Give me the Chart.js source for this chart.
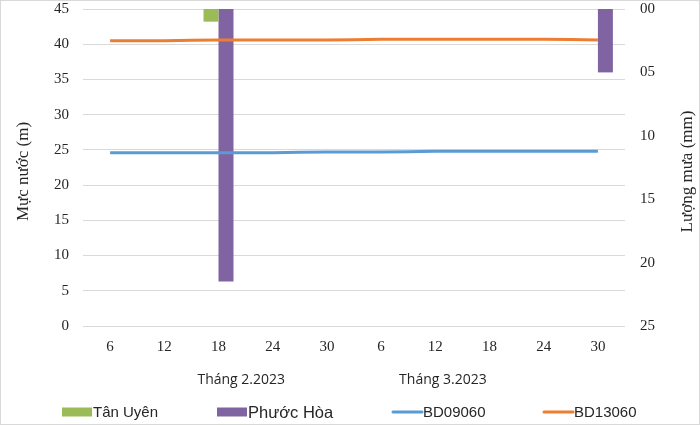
<!DOCTYPE html>
<html>
<head>
<meta charset="utf-8">
<script src="https://cdn.jsdelivr.net/npm/chart.js@4.4.1/dist/chart.umd.min.js"></script>
<style>
  body { margin: 0; background: #fff; }
  #chart { display: block; }
</style>
</head>
<body>
<canvas id="chart" width="700" height="425"></canvas>
<script>
// day labels along the x axis (every 6 days, Feb then Mar)
const dayLabels = ["6", "12", "18", "24", "30", "6", "12", "18", "24", "30"];
const monthLabels = ["Tháng 2.2023", "Tháng 3.2023"];
const seriesNames = ["Tân Uyên", "Phước Hòa", "BD09060", "BD13060"];

// rainfall (mm), right axis reversed
const tanUyen = [null, null, 1.0, null, null, null, null, null, null, null];
const phuocHoa = [null, null, 21.5, null, null, null, null, null, null, 5.0];

// water level (m), left axis
const bd09060 = [24.6, 24.6, 24.6, 24.6, 24.7, 24.7, 24.8, 24.8, 24.8, 24.8];
const bd13060 = [40.5, 40.5, 40.6, 40.6, 40.6, 40.7, 40.7, 40.7, 40.7, 40.6];

const colors = ["#9BBB59", "#8064A2", "#5B9BD5", "#ED7D31"];
const textColor = "#262626";
const gridColor = "#d9d9d9";

// titles, month group labels, legend and frame
const decorPlugin = {
  id: "decor",
  afterDraw(chart) {
    const ctx = chart.ctx;
    const area = chart.chartArea;
    const xScale = chart.scales.x;
    const midY = (area.top + area.bottom) / 2 + 4;
    ctx.save();
    ctx.fillStyle = textColor;
    ctx.textAlign = "center";
    ctx.textBaseline = "middle";

    // axis titles, both read bottom-to-top
    ctx.font = '17px "Liberation Serif"';
    [[24, "Mực nước (m)"], [688, "Lượng mưa (mm)"]].forEach(([tx, txt]) => {
      ctx.save();
      ctx.translate(tx, midY);
      ctx.rotate(-Math.PI / 2);
      ctx.fillText(txt, 0, 0);
      ctx.restore();
    });

    // month labels under the day ticks
    const monthPos = [2.42, 6.14];
    ctx.font = '14px "Open Sans"';
    monthLabels.forEach((m, i) => {
      ctx.fillText(m, xScale.getPixelForValue(monthPos[i]), 380);
    });

    // legend
    const legX = [62, 217, 392, 543];
    const legFont = [15, 16.5, 15, 15];
    const legY = 412;
    ctx.textAlign = "left";
    chart.data.datasets.forEach((ds, i) => {
      const x0 = legX[i];
      if (ds.type === "bar") {
        ctx.fillStyle = ds.backgroundColor;
        ctx.fillRect(x0, legY - 4.5, 30, 9);
      } else {
        ctx.strokeStyle = ds.borderColor;
        ctx.lineWidth = 3;
        ctx.lineCap = "round";
        ctx.beginPath();
        ctx.moveTo(x0 + 1, legY);
        ctx.lineTo(x0 + 30, legY);
        ctx.stroke();
      }
      ctx.fillStyle = textColor;
      ctx.font = legFont[i] + 'px "Liberation Sans"';
      ctx.fillText(ds.label, x0 + 31, legY + 1);
    });

    // outer frame
    ctx.strokeStyle = gridColor;
    ctx.lineWidth = 1;
    ctx.strokeRect(0.5, 0.5, chart.width - 1, chart.height - 1);
    ctx.restore();
  }
};

const tickFont = { family: "Liberation Serif", size: 15 };

new Chart(document.getElementById("chart"), {
  data: {
    labels: dayLabels,
    datasets: [
      {
        type: "bar",
        label: seriesNames[0],
        data: tanUyen,
        yAxisID: "y1",
        backgroundColor: colors[0],
        order: 2
      },
      {
        type: "bar",
        label: seriesNames[1],
        data: phuocHoa,
        yAxisID: "y1",
        backgroundColor: colors[1],
        order: 2
      },
      {
        type: "line",
        label: seriesNames[2],
        data: bd09060,
        yAxisID: "y",
        borderColor: colors[2],
        borderWidth: 3,
        pointRadius: 0,
        tension: 0.3,
        order: 1
      },
      {
        type: "line",
        label: seriesNames[3],
        data: bd13060,
        yAxisID: "y",
        borderColor: colors[3],
        borderWidth: 3,
        pointRadius: 0,
        tension: 0.3,
        order: 1
      }
    ]
  },
  options: {
    responsive: false,
    animation: false,
    layout: { padding: { top: 9, left: 0, right: 0, bottom: 0 } },
    datasets: {
      bar: { categoryPercentage: 0.553, barPercentage: 1.0 }
    },
    plugins: {
      legend: { display: false },
      tooltip: { enabled: false }
    },
    scales: {
      x: {
        grid: { display: false, drawTicks: false },
        border: { display: false },
        ticks: { font: tickFont, color: textColor, padding: 12, maxRotation: 0, autoSkip: false },
        afterFit: (s) => { s.height = 99; }
      },
      y: {
        position: "left",
        min: 0,
        max: 45,
        ticks: { stepSize: 5, font: tickFont, color: textColor, padding: 14 },
        grid: { color: gridColor, lineWidth: 1, drawTicks: false },
        border: { display: false },
        afterFit: (s) => { s.width = 83; s.paddingTop = 0; s.paddingBottom = 0; }
      },
      y1: {
        position: "right",
        reverse: true,
        min: 0,
        max: 25,
        ticks: {
          stepSize: 5,
          font: tickFont,
          color: textColor,
          padding: 15,
          callback: (v) => String(v).padStart(2, "0")
        },
        grid: { display: false, drawTicks: false },
        border: { display: false },
        afterFit: (s) => { s.width = 75; s.paddingTop = 0; s.paddingBottom = 0; }
      }
    }
  },
  plugins: [decorPlugin]
});
</script>
</body>
</html>
